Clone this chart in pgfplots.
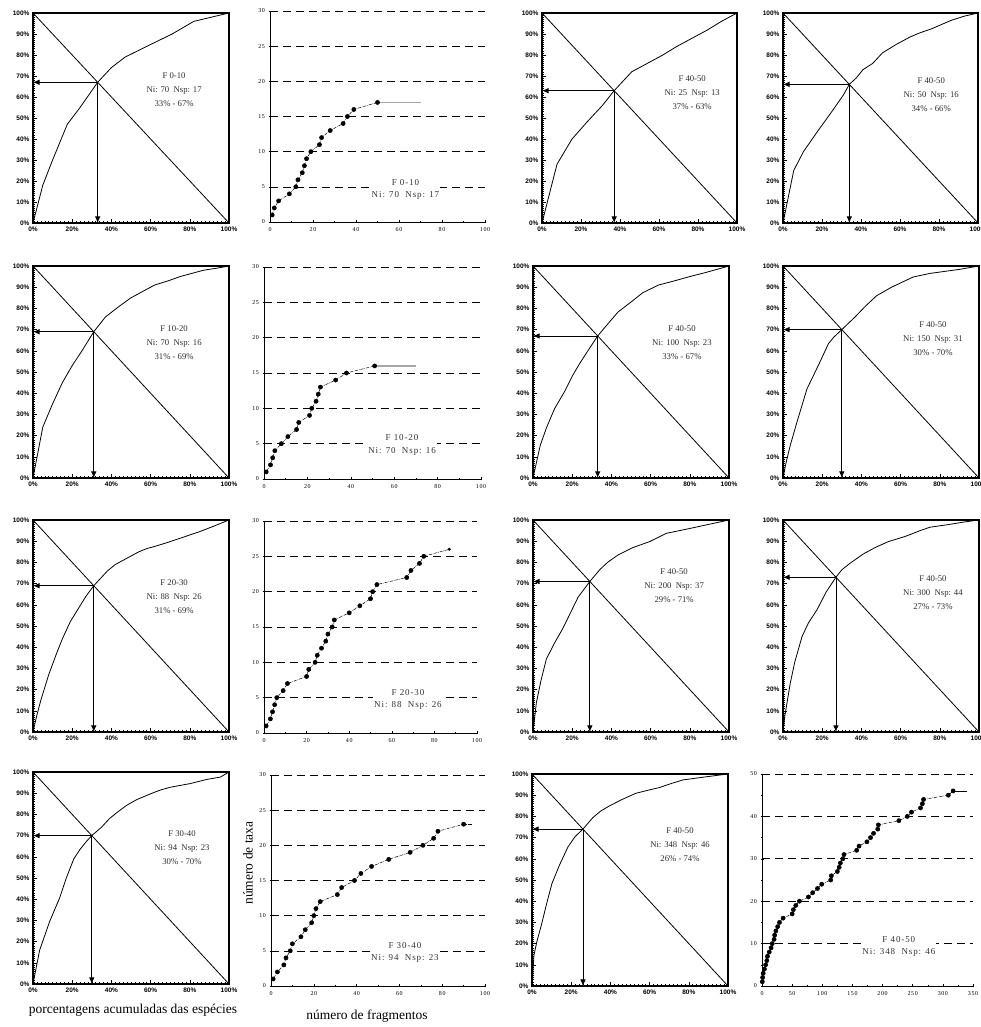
\documentclass[border=0pt]{standalone}
\usepackage{fontspec}
\setmainfont{Liberation Serif}
\newfontfamily\lsans{Liberation Sans}
\newfontfamily\lserifsp{Liberation Serif}[LetterSpace=10]
\usepackage{pgfplots}
\pgfplotsset{compat=1.18}
\usetikzlibrary{arrows.meta}

\newcommand\lorfont{\lsans\bfseries\fontsize{6.5}{7}\selectfont}
\newcommand\annfont{\fontsize{8.7}{14}\selectfont}
\newcommand\accfont{\lserifsp\fontsize{6}{7}\selectfont}
\newcommand\accann{\lserifsp\fontsize{9}{12.5}\selectfont}

\tikzset{
 lann/.style={align=center, font=\annfont, text=black!82},
 aann/.style={align=center, font=\accann, text=black!80, fill=white, inner sep=1pt},
}
\pgfplotsset{
 lorenz/.style={scale only axis, anchor=south west,
   xmin=0,xmax=100,ymin=0,ymax=100,
   xtick={0,20,...,100}, ytick={0,10,...,100},
   xticklabels={0\%,20\%,40\%,60\%,80\%,100\%},
   yticklabels={0\%,10\%,20\%,30\%,40\%,50\%,60\%,70\%,80\%,90\%,100\%},
   minor x tick num=9, minor y tick num=9,
   xtick pos=bottom, ytick pos=left, tick align=inside,
   major tick length=3.5pt, minor tick length=1.8pt,
   tick style={black, line width=0.5pt},
   axis line style={line width=1.1pt},
   tick label style={font=\lorfont},
   clip=false},
 lcurve/.style={black, line width=0.8pt, no marks},
 larrow/.style={black, line width=0.8pt, no marks, -{Latex[length=6.5pt,width=5.5pt]}},
 accum/.style={scale only axis, anchor=south west,
   xmin=0,xmax=100,ymin=0,ymax=30,
   axis x line*=bottom, axis y line*=left,
   xtick={0,20,...,100}, ytick={0,5,...,30}, minor x tick num=1,
   tick align=center, major tick length=3pt, minor tick length=2pt,
   tick style={black, line width=0.5pt},
   axis line style={line width=0.8pt},
   ymajorgrids, grid style={black, line width=0.6pt, dash pattern=on 8pt off 5pt},
   tick label style={font=\accfont},
   /pgf/number format/assume math mode=true,
   /pgf/number format/1000 sep={},
   clip=false},
 acurve/.style={black, line width=0.5pt, densely dashdotted, mark=*, mark size=2.1pt, mark options={solid, fill=black}},
}

\begin{document}
\begin{tikzpicture}
\useasboundingbox (0,0) rectangle (980pt,1027pt);
\clip (0,0) rectangle (980pt,1027pt);

% ---------------- Row 1 ----------------
\begin{axis}[lorenz, at={(33pt,804pt)}, width=196pt, height=210pt]
\addplot[lcurve] coordinates {(0,0)(5,18)(10,30)(17.5,47)(24,55)(30,63)(33,67)(40,74)(47,79)(60,85)(71,90)(82,96)(100,100)};
\addplot[lcurve] coordinates {(0,100)(100,0)};
\addplot[larrow] coordinates {(33,67)(0,67)};
\addplot[larrow] coordinates {(33,67)(33,0)};
\node[lann] at (axis cs:72,63.5) {F 0-10\\Ni: 70~~Nsp: 17\\33\% - 67\%};
\end{axis}

\begin{axis}[accum, at={(270pt,805pt)}, width=215pt, height=211pt]
\addplot[acurve] coordinates {(1,1)(2,2)(4,3)(9,4)(12,5)(13,6)(15,7)(16,8)(17,9)(19,10)(23,11)(24,12)(28,13)(34,14)(36,15)(39,16)(50,17)};
\addplot[gray!70, line width=1.3pt, no marks] coordinates {(50,17)(70,17)};
\node[aann] at (axis cs:63,4.6) {F 0-10\\Ni: 70~~Nsp: 17};
\end{axis}

\begin{axis}[lorenz, at={(542pt,804pt)}, width=195pt, height=210pt]
\addplot[lcurve] coordinates {(0,0)(7.7,28)(15.4,40)(23,48)(31,56)(37,63)(46,72)(54,76)(62,80)(69,84)(77,88)(85,92)(92,96)(100,100)};
\addplot[lcurve] coordinates {(0,100)(100,0)};
\addplot[larrow] coordinates {(37,63)(0,63)};
\addplot[larrow] coordinates {(37,63)(37,0)};
\node[lann] at (axis cs:77,62) {F 40-50\\Ni: 25~~Nsp: 13\\37\% - 63\%};
\end{axis}

\begin{axis}[lorenz, at={(783pt,804pt)}, width=195pt, height=210pt]
\addplot[lcurve] coordinates {(0,0)(5.5,25)(10.5,34)(18,44)(25,53)(31,61)(34,66)(37.5,69)(41,73)(46,76)(51,81)(58,85)(65,88.5)(70,90.5)(76,92.4)(86,96.4)(93,98.5)(100,100)};
\addplot[lcurve] coordinates {(0,100)(100,0)};
\addplot[larrow] coordinates {(34,66)(0,66)};
\addplot[larrow] coordinates {(34,66)(34,0)};
\node[lann] at (axis cs:76,61) {F 40-50\\Ni: 50~~Nsp: 16\\34\% - 66\%};
\end{axis}

% ---------------- Row 2 ----------------
\begin{axis}[lorenz, at={(33pt,549pt)}, width=196pt, height=212pt]
\addplot[lcurve] coordinates {(0,0)(5,24)(10,35)(15,45)(20,53)(25,60)(31,69)(37,76)(44,81)(50,85)(56,88)(62,91)(69,93)(75,95)(81,96.5)(87,98)(94,99)(100,100)};
\addplot[lcurve] coordinates {(0,100)(100,0)};
\addplot[larrow] coordinates {(31,69)(0,69)};
\addplot[larrow] coordinates {(31,69)(31,0)};
\node[lann] at (axis cs:72,64) {F 10-20\\Ni: 70~~Nsp: 16\\31\% - 69\%};
\end{axis}

\begin{axis}[accum, at={(264pt,548pt)}, width=217pt, height=212pt]
\addplot[acurve] coordinates {(1,1)(3,2)(4,3)(5,4)(8,5)(11,6)(15,7)(16,8)(21,9)(22,10)(24,11)(25,12)(26,13)(33,14)(38,15)(51,16)};
\addplot[gray!70, line width=1.3pt, no marks] coordinates {(51,16)(70,16)};
\node[aann] at (axis cs:63.6,4.8) {F 10-20\\Ni: 70~~Nsp: 16};
\end{axis}

\begin{axis}[lorenz, at={(533pt,549pt)}, width=196pt, height=212pt]
\addplot[lcurve] coordinates {(0,0)(3.7,15.4)(7,24)(11,32.7)(16,40.6)(20,48)(23.8,54)(28,60)(33,67)(38,72.5)(43.4,78.3)(50,83)(56,87.4)(64,91)(71.4,92.8)(80,95)(88.4,97)(100,100)};
\addplot[lcurve] coordinates {(0,100)(100,0)};
\addplot[larrow] coordinates {(33,67)(0,67)};
\addplot[larrow] coordinates {(33,67)(33,0)};
\node[lann] at (axis cs:76,64) {F 40-50\\Ni: 100~~Nsp: 23\\33\% - 67\%};
\end{axis}

\begin{axis}[lorenz, at={(783pt,549pt)}, width=196pt, height=212pt]
\addplot[lcurve] coordinates {(0,0)(1.5,7)(3.7,15.4)(7,26)(12.2,42)(16.4,50)(20,57)(23.2,63.4)(26,66.5)(30,70)(36.8,76)(42,81)(47.8,86)(55.4,90)(60,92)(66.4,94.8)(75,96.5)(90,98.4)(100,100)};
\addplot[lcurve] coordinates {(0,100)(100,0)};
\addplot[larrow] coordinates {(30,70)(0,70)};
\addplot[larrow] coordinates {(30,70)(30,0)};
\node[lann] at (axis cs:76.5,65.5) {F 40-50\\Ni: 150~~Nsp: 31\\30\% - 70\%};
\end{axis}

% ---------------- Row 3 ----------------
\begin{axis}[lorenz, at={(33pt,295pt)}, width=196pt, height=212pt]
\addplot[lcurve] coordinates {(0,0)(2,8)(4,15)(8,27)(12,37)(15,44)(19,52)(23,58)(27,64)(31,69)(35,73)(38,76)(42,79)(46,81)(50,83)(54,85)(58,86.5)(62,87.5)(69,89.5)(77,92)(85,94.5)(92,97)(100,100)};
\addplot[lcurve] coordinates {(0,100)(100,0)};
\addplot[larrow] coordinates {(31,69)(0,69)};
\addplot[larrow] coordinates {(31,69)(31,0)};
\node[lann] at (axis cs:72,64) {F 20-30\\Ni: 88~~Nsp: 26\\31\% - 69\%};
\end{axis}

\begin{axis}[accum, at={(264pt,294pt)}, width=213pt, height=212pt]
\addplot[acurve] coordinates {(1,1)(3,2)(4,3)(5,4)(6,5)(9,6)(11,7)(20,8)(21,9)(24,10)(25,11)(27,12)(29,13)(30,14)(32,15)(33,16)(40,17)(45,18)(50,19)(51,20)(53,21)(67,22)(69,23)(73,24)(75,25)};
\addplot[black, line width=0.5pt, densely dashdotted, mark=*, mark size=1.3pt, mark options={solid, fill=black}] coordinates {(75,25)(87,26)};
\node[aann] at (axis cs:67.6,4.75) {F 20-30\\Ni: 88~~Nsp: 26};
\end{axis}

\begin{axis}[lorenz, at={(533pt,295pt)}, width=196pt, height=212pt]
\addplot[lcurve] coordinates {(0,0)(1.7,13.7)(4,24)(6.8,34.4)(11,42)(15.3,49)(19,56)(23,63.6)(29,71)(34,76.5)(38,80)(43.4,83.5)(51,87)(59.5,89.8)(68,93.7)(80,96)(92,98.4)(100,100)};
\addplot[lcurve] coordinates {(0,100)(100,0)};
\addplot[larrow] coordinates {(29,71)(0,71)};
\addplot[larrow] coordinates {(29,71)(29,0)};
\node[lann] at (axis cs:72,69) {F 40-50\\Ni: 200~~Nsp: 37\\29\% - 71\%};
\end{axis}

\begin{axis}[lorenz, at={(783pt,295pt)}, width=196pt, height=212pt]
\addplot[lcurve] coordinates {(0,0)(1,8)(3.7,23)(6,33)(9.7,45)(13,51.5)(17.3,57.6)(22,66)(27,73)(30,76.5)(34.2,79.6)(41,84)(47,87)(53.7,89.8)(62.2,92.2)(70,95)(75,96.6)(83.4,97.7)(93.5,99.2)(100,100)};
\addplot[lcurve] coordinates {(0,100)(100,0)};
\addplot[larrow] coordinates {(27,73)(0,73)};
\addplot[larrow] coordinates {(27,73)(27,0)};
\node[lann] at (axis cs:76.5,65.5) {F 40-50\\Ni: 300~~Nsp: 44\\27\% - 73\%};
\end{axis}

% ---------------- Row 4 ----------------
\begin{axis}[lorenz, at={(33pt,43pt)}, width=196pt, height=212pt]
\addplot[lcurve] coordinates {(0,0)(3.4,16)(8.5,29.5)(13.6,40.6)(17,50)(20.8,59)(24,63.5)(27.3,67.3)(30,70)(35,74)(39,78)(43,81)(47.8,84.3)(53,87)(59.7,89.6)(65,91.5)(70,92.8)(80,94.5)(88.7,96.5)(95.6,97.6)(100,100)};
\addplot[lcurve] coordinates {(0,100)(100,0)};
\addplot[larrow] coordinates {(30,70)(0,70)};
\addplot[larrow] coordinates {(30,70)(30,0)};
\node[lann] at (axis cs:76,64.5) {F 30-40\\Ni: 94~~Nsp: 23\\30\% - 70\%};
\end{axis}

\begin{axis}[accum, at={(271pt,41pt)}, width=214pt, height=211pt]
\addplot[acurve] coordinates {(1,1)(3,2)(6,3)(7,4)(9,5)(10,6)(14,7)(16,8)(19,9)(20,10)(21,11)(23,12)(31,13)(33,14)(39,15)(42,16)(47,17)(55,18)(65,19)(71,20)(76,21)(78,22)(90,23)};
\addplot[black, line width=0.5pt, densely dashdotted, no marks] coordinates {(90,23)(94,23)};
\node[aann] at (axis cs:62.6,4.75) {F 30-40\\Ni: 94~~Nsp: 23};
\end{axis}

\begin{axis}[lorenz, at={(532pt,41pt)}, width=196pt, height=212pt]
\addplot[lcurve] coordinates {(0,0)(1,14.6)(2.5,21)(4.8,28.8)(7.5,39)(10.2,48.4)(14,57)(18.4,65.7)(22,70.5)(26,74)(31,79.4)(35,82.5)(39.6,85)(46,88)(53,90.9)(59,92.3)(65,93.6)(71,95.5)(77,97.2)(89,98.7)(100,100)};
\addplot[lcurve] coordinates {(0,100)(100,0)};
\addplot[larrow] coordinates {(26,74)(0,74)};
\addplot[larrow] coordinates {(26,74)(26,0)};
\node[lann] at (axis cs:75.5,66.5) {F 40-50\\Ni: 348~~Nsp: 46\\26\% - 74\%};
\end{axis}

\begin{axis}[accum, at={(762pt,41pt)}, width=211pt, height=212pt,
  xmax=350, ymax=50, xtick={0,50,...,350}, ytick={0,10,...,50}, minor y tick num=1]
\addplot[acurve] coordinates {(0.5,1)(1,2)(2,3)(4,4)(6,5)(8,6)(9,7)(12,8)(15,9)(17,10)(20,11)(21,12)(23,13)(26,14)(29,15)(35,16)(50,17)(52,18)(56,19)(62,20)(77,21)(84,22)(92,23)(99,24)(114,25)(115,26)(125,27)(128,28)(130,29)(134,30)(136,31)(157,32)(161,33)(174,34)(180,35)(185,36)(192,37)(193,38)(227,39)(241,40)(248,41)(263,42)(266,43)(268,44)(309,45)(317,46)};
\addplot[black, line width=0.6pt, no marks] coordinates {(317,46)(340,46)};
\node[aann] at (axis cs:227,9.3) {F 40-50\\Ni: 348~~Nsp: 46};
\end{axis}

% axis titles
\node[font=\fontsize{13.5}{15}\selectfont] at (133pt,17pt) {porcentagens acumuladas das espécies};
\node[font=\fontsize{13.5}{15}\selectfont] at (367pt,11pt) {número de fragmentos};
\node[font=\fontsize{13.5}{15}\selectfont, rotate=90] at (248pt,164pt) {número de taxa};
\end{tikzpicture}
\end{document}
